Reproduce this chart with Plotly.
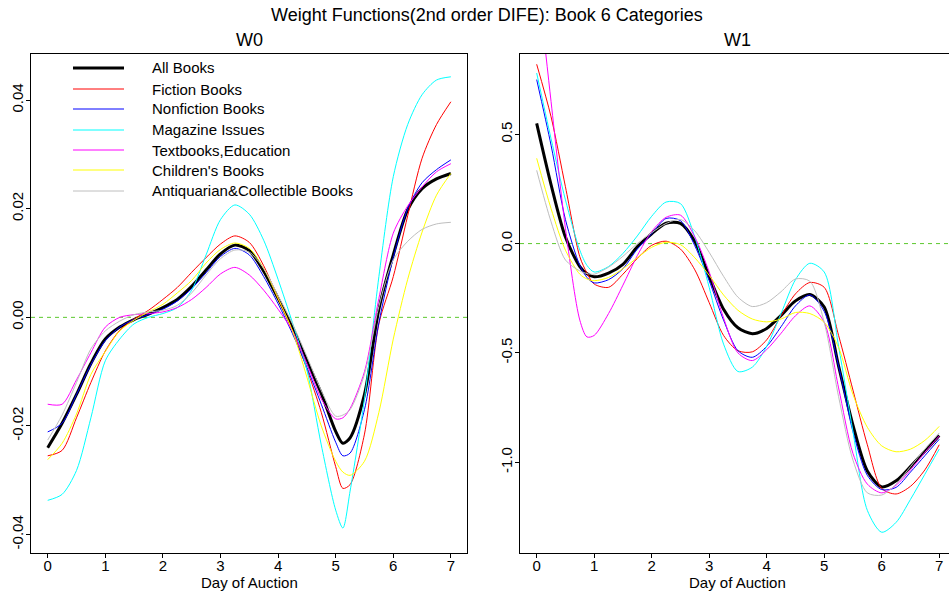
import plotly.graph_objects as go

# ---------------- data ----------------
CATEGORIES = ["All Books", "Fiction Books", "Nonfiction Books", "Magazine Issues",
              "Textbooks,Education", "Children's Books", "Antiquarian&Collectible Books"]
COLORS = ["#000000", "#FF0000", "#0000FF", "#00FFFF", "#FF00FF", "#FFFF00", "#BEBEBE"]
WIDTHS = [3, 1, 1, 1, 1, 1, 1]

DAYS_W0 = [0, 0.25, 0.5, 0.75, 1.0, 1.25, 1.5, 1.75, 2.0, 2.25, 2.5, 2.75, 3.0, 3.25, 3.5,
           3.75, 4.0, 4.25, 4.5, 4.75, 5.0, 5.125, 5.25, 5.5, 5.75, 6.0, 6.25, 6.5, 6.75, 7.0]

W0_ALL = [-0.0240, -0.0195, -0.0142, -0.0085, -0.0040, -0.0018, -0.0004, 0.0006, 0.0018, 0.0033,
          0.0057, 0.0087, 0.0117, 0.0133, 0.0123, 0.0085, 0.0035, -0.0018, -0.0080, -0.0140,
          -0.0210, -0.0232, -0.0222, -0.0142, 0.0015, 0.0115, 0.0198, 0.0237, 0.0255, 0.0265]
W0_FICTION = [-0.0255, -0.0245, -0.0185, -0.0120, -0.0062, -0.0024, -0.0003, 0.0013, 0.0033, 0.0055,
              0.0083, 0.0110, 0.0135, 0.0150, 0.0138, 0.0095, 0.0035, -0.0025, -0.0095, -0.0175,
              -0.0275, -0.0315, -0.0308, -0.0215, -0.0012, 0.0075, 0.0187, 0.0293, 0.0355, 0.0397]
W0_NONFICTION = [-0.0211, -0.0195, -0.0142, -0.0087, -0.0043, -0.0018, -0.0004, 0.0005, 0.0015, 0.0030,
                 0.0053, 0.0082, 0.0112, 0.0127, 0.0115, 0.0075, 0.0025, -0.0030, -0.0092, -0.0160,
                 -0.0230, -0.0255, -0.0250, -0.0170, -0.0010, 0.0110, 0.0200, 0.0248, 0.0272, 0.0290]
W0_MAGAZINE = [-0.0337, -0.0326, -0.0282, -0.0185, -0.0080, -0.0040, -0.0012, 0.0000, 0.0007, 0.0018,
               0.0050, 0.0115, 0.0180, 0.0207, 0.0190, 0.0142, 0.0070, -0.0010, -0.0097, -0.0235,
               -0.0355, -0.0388, -0.0320, -0.0150, 0.0075, 0.0259, 0.0355, 0.0410, 0.0437, 0.0443]
W0_TEXTBOOKS = [-0.0160, -0.0160, -0.0115, -0.0065, -0.0018, 0.0000, 0.0005, 0.0007, 0.0010, 0.0018,
                0.0033, 0.0055, 0.0080, 0.0092, 0.0078, 0.0050, 0.0015, -0.0025, -0.0085, -0.0150,
                -0.0187, -0.0185, -0.0168, -0.0100, 0.0035, 0.0155, 0.0205, 0.0240, 0.0268, 0.0283]
W0_CHILDREN = [-0.0262, -0.0232, -0.0178, -0.0105, -0.0063, -0.0025, -0.0005, 0.0010, 0.0024, 0.0045,
               0.0068, 0.0100, 0.0125, 0.0137, 0.0127, 0.0090, 0.0035, -0.0025, -0.0110, -0.0200,
               -0.0265, -0.0285, -0.0291, -0.0265, -0.0175, -0.0040, 0.0070, 0.0157, 0.0225, 0.0265]
W0_ANTIQUARIAN = [-0.0226, -0.0180, -0.0120, -0.0058, -0.0025, -0.0007, 0.0005, 0.0010, 0.0013, 0.0022,
                  0.0045, 0.0078, 0.0108, 0.0124, 0.0120, 0.0090, 0.0040, -0.0012, -0.0072, -0.0135,
                  -0.0182, -0.0180, -0.0170, -0.0105, 0.0020, 0.0106, 0.0140, 0.0162, 0.0172, 0.0175]

DAYS_W1 = [0, 0.25, 0.5, 0.75, 0.875, 1.0, 1.25, 1.5, 1.75, 2.0, 2.25, 2.5, 2.75, 3.0, 3.25, 3.5,
           3.75, 4.0, 4.25, 4.5, 4.75, 5.0, 5.25, 5.5, 5.75, 6.0, 6.25, 6.5, 6.75, 7.0]

W1_ALL = [0.55, 0.27, 0.03, -0.105, -0.138, -0.152, -0.135, -0.095, -0.015, 0.045, 0.093, 0.092,
          0.01, -0.15, -0.30, -0.385, -0.412, -0.388, -0.328, -0.262, -0.233, -0.29, -0.56, -0.83,
          -1.04, -1.113, -1.085, -1.02, -0.95, -0.878]
W1_FICTION = [0.82, 0.58, 0.26, -0.06, -0.135, -0.185, -0.2, -0.14, -0.068, -0.008, 0.011, -0.025,
              -0.12, -0.27, -0.42, -0.49, -0.495, -0.44, -0.33, -0.23, -0.178, -0.2, -0.42, -0.67,
              -0.92, -1.12, -1.145, -1.11, -1.035, -0.92]
W1_NONFICTION = [0.75, 0.45, 0.11, -0.1, -0.155, -0.18, -0.165, -0.115, -0.025, 0.045, 0.115, 0.105,
                 -0.01, -0.17, -0.35, -0.49, -0.52, -0.47, -0.38, -0.285, -0.235, -0.31, -0.56, -0.86,
                 -1.06, -1.125, -1.115, -1.045, -0.97, -0.895]
W1_MAGAZINE = [0.78, 0.48, 0.2, -0.03, -0.1, -0.13, -0.105, -0.045, 0.035, 0.125, 0.19, 0.183,
               0.03, -0.2, -0.46, -0.585, -0.565, -0.47, -0.32, -0.165, -0.09, -0.13, -0.47, -0.86,
               -1.22, -1.32, -1.275, -1.17, -1.055, -0.94]
W1_TEXTBOOKS = [1.25, 0.65, 0.07, -0.35, -0.427, -0.42, -0.32, -0.19, -0.055, 0.055, 0.12, 0.13,
                0.03, -0.13, -0.34, -0.50, -0.535, -0.485, -0.41, -0.33, -0.285, -0.36, -0.66, -0.96,
                -1.10, -1.14, -1.105, -1.035, -0.955, -0.88]
W1_CHILDREN = [0.39, 0.16, -0.03, -0.14, -0.162, -0.17, -0.155, -0.115, -0.065, -0.017, 0.006, -0.005,
               -0.065, -0.145, -0.235, -0.305, -0.345, -0.358, -0.345, -0.315, -0.32, -0.36, -0.475, -0.69,
               -0.84, -0.925, -0.952, -0.94, -0.9, -0.836]
W1_ANTIQUARIAN = [0.335, 0.10, -0.075, -0.125, -0.137, -0.14, -0.108, -0.058, 0.0, 0.05, 0.092, 0.11,
                  0.058, -0.04, -0.15, -0.245, -0.288, -0.27, -0.22, -0.162, -0.172, -0.36, -0.70, -0.99,
                  -1.14, -1.15, -1.10, -1.02, -0.94, -0.866]

X_TICKS = [0, 1, 2, 3, 4, 5, 6, 7]
W0_TICKS = [-0.04, -0.02, 0.0, 0.02, 0.04]
W0_TICK_LABELS = ["-0.04", "-0.02", "0.00", "0.02", "0.04"]
W1_TICKS = [-1.0, -0.5, 0.0, 0.5]
W1_TICK_LABELS = ["-1.0", "-0.5", "0.0", "0.5"]

TITLE = "Weight Functions(2nd order DIFE): Book 6 Categories"
PANEL_TITLES = ["W0", "W1"]
X_LABEL = "Day of Auction"

W0_SERIES = [W0_ALL, W0_FICTION, W0_NONFICTION, W0_MAGAZINE, W0_TEXTBOOKS, W0_CHILDREN, W0_ANTIQUARIAN]
W1_SERIES = [W1_ALL, W1_FICTION, W1_NONFICTION, W1_MAGAZINE, W1_TEXTBOOKS, W1_CHILDREN, W1_ANTIQUARIAN]

# ---------------- figure ----------------
FONT = "Liberation Sans, Arial, Helvetica, sans-serif"
W, H = 949, 596

fig = go.Figure()
for name, col, wd, ys in zip(CATEGORIES, COLORS, WIDTHS, W0_SERIES):
    fig.add_trace(go.Scatter(x=DAYS_W0, y=ys, mode="lines", name=name,
                             line=dict(color=col, width=wd, shape="spline", smoothing=0.8),
                             xaxis="x", yaxis="y", showlegend=False, hoverinfo="skip"))
for name, col, wd, ys in zip(CATEGORIES, COLORS, WIDTHS, W1_SERIES):
    fig.add_trace(go.Scatter(x=DAYS_W1, y=ys, mode="lines", name=name,
                             line=dict(color=col, width=wd, shape="spline", smoothing=0.8),
                             xaxis="x2", yaxis="y2", showlegend=False, hoverinfo="skip"))

# zero reference lines (dashed green)
for xr, yr in (("x", "y"), ("x2", "y2")):
    fig.add_shape(type="line", xref=f"{xr} domain", yref=yr, x0=0, x1=1, y0=0, y1=0,
                  line=dict(color="#5CC82E", width=1, dash="4px,4px"), layer="below")

# legend in the top-left of the W0 panel (R style, no box)
LEG_X0, LEG_X1, LEG_TX, LEG_Y0, LEG_DY = 73, 124, 150, 68.3, 20.4
annotations = []
for i, (name, col, wd) in enumerate(zip(CATEGORIES, COLORS, WIDTHS)):
    ypx = round(LEG_Y0 + i * LEG_DY)
    yp = 1 - ypx / H
    fig.add_shape(type="line", xref="paper", yref="paper", x0=LEG_X0 / W, x1=LEG_X1 / W,
                  y0=yp, y1=yp, line=dict(color=col, width=wd))
    annotations.append(dict(text=name, xref="paper", yref="paper", x=LEG_TX / W, y=yp,
                            xanchor="left", yanchor="middle", showarrow=False,
                            font=dict(family=FONT, size=15, color="black")))

ydom = [(H - 553) / H, (H - 54) / H]
axis_common = dict(showgrid=False, zeroline=False, showline=True, linecolor="black",
                   linewidth=1, ticks="outside", ticklen=4, tickcolor="black",
                   tickfont=dict(family=FONT, size=15, color="black"))

fig.update_layout(
    width=W, height=H,
    margin=dict(l=0, r=0, t=0, b=0),
    paper_bgcolor="white", plot_bgcolor="white",
    font=dict(family=FONT, color="black"),
    showlegend=False,
    xaxis=dict(domain=[31 / W, 467 / W], range=[-0.29, 7.28], anchor="y",
               tickvals=X_TICKS, mirror=True, ticklabelstandoff=-5, **axis_common),
    yaxis=dict(domain=ydom, range=[-0.0434, 0.0485], anchor="x",
               tickvals=W0_TICKS, ticktext=W0_TICK_LABELS, tickangle=-90, mirror=True,
               ticklabelstandoff=-3, **axis_common),
    xaxis2=dict(domain=[520 / W, 1.0], range=[-0.29, 7.17], anchor="y2",
                tickvals=X_TICKS, mirror=True, ticklabelstandoff=-5, **axis_common),
    yaxis2=dict(domain=ydom, range=[-1.415, 0.867], anchor="x2",
                tickvals=W1_TICKS, ticktext=W1_TICK_LABELS, tickangle=-90, mirror=False,
                ticklabelstandoff=-3, **axis_common),
)

annotations.append(dict(text=TITLE, xref="paper", yref="paper", x=486.7 / W, y=1 - 14.5 / H,
                        xanchor="center", yanchor="middle", showarrow=False,
                        font=dict(family=FONT, size=18, color="black")))
for xr, ptitle in zip(("x", "x2"), PANEL_TITLES):
    annotations.append(dict(text=ptitle, xref=xr, yref="paper", x=3.5, y=1 - 39.5 / H,
                            xanchor="center", yanchor="middle", showarrow=False,
                            font=dict(family=FONT, size=18, color="black")))
    annotations.append(dict(text=X_LABEL, xref=xr, yref="paper", x=3.5, y=1 - 582.5 / H,
                            xanchor="center", yanchor="middle", showarrow=False,
                            font=dict(family=FONT, size=15, color="black")))
fig.update_layout(annotations=annotations)

fig.write_html("out.html")
